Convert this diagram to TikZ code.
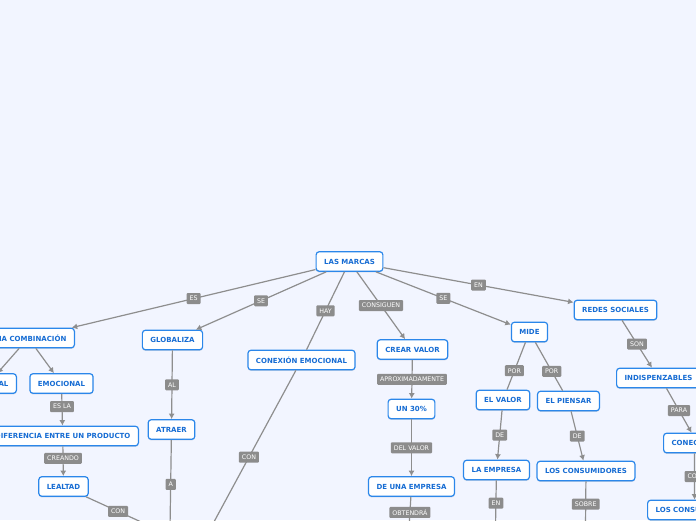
\documentclass[tikz,border=0pt]{standalone}
\usepackage{fontspec}
\setmainfont{DejaVu Sans}
\usepackage{tikz}
\usetikzlibrary{arrows.meta,shadows}
\definecolor{Backdrop}{HTML}{F2F5FF}
\definecolor{MapBlue}{HTML}{2B87EA}
\definecolor{MapInk}{HTML}{166CD3}
\definecolor{TagGray}{HTML}{8C8C8C}
\definecolor{LinkGray}{HTML}{8E8E8E}

\begin{document}
\begin{tikzpicture}[x=1pt,y=-1pt,
      concept/.style={rounded corners=3pt,draw=MapBlue,fill=white,
                      line width=1.2pt,text=MapInk,
                      font=\bfseries\fontsize{7}{8}\selectfont,
                      minimum height=19.5pt,inner xsep=8pt,inner ysep=2pt,
                      drop shadow={shadow xshift=0pt,shadow yshift=-1.2pt,
                                   opacity=0.18,fill=MapBlue!50!black}},
      tag/.style={rounded corners=1pt,fill=TagGray,text=white,
                  font=\fontsize{6.3}{7}\selectfont,
                  inner xsep=3pt,inner ysep=1.5pt,minimum height=11pt},
      link/.style={draw=LinkGray,line width=1.2pt},
      arr/.style={-{Latex[length=5.5pt,width=6pt]}},
      plain/.style={}]
    % Page: a pale backdrop, the map hangs in its lower half.
    \useasboundingbox (0,0) rectangle (696,520);
    \clip (0,0) rectangle (696,520);
    \fill[Backdrop] (0,0) rectangle (696,520);

    \foreach \name/\x/\y/\txt in {
        marcas/349.5/261.5/LAS MARCAS,
        emocional/61.5/383.5/EMOCIONAL,
        lealtad/63.5/486.5/LEALTAD,
        globaliza/172.5/340/GLOBALIZA,
        atraer/171.5/429.5/ATRAER,
        conexion/301.5/360/CONEXIÓN EMOCIONAL,
        crear/412.5/349.5/CREAR VALOR,
        treinta/411.5/409/UN 30\%,
        unaempresa/411.5/486.5/DE UNA EMPRESA,
        mide/529.5/332/MIDE,
        redes/615.5/310/REDES SOCIALES,
        elvalor/503/400/EL VALOR,
        piensar/568.5/401/EL PIENSAR,
        laempresa/496.5/470/LA EMPRESA,
        consumidores/586/471/LOS CONSUMIDORES}{%
      \node[concept] (\name) at (\x,\y) {\txt};
    }
    % Nodes cut by the page edges.
    \node[concept,anchor=east] (combinacion) at (75,338) {UNA COMBINACIÓN};
    \node[concept,anchor=east] (racional) at (17,383.5) {RACIONAL};
    \node[concept,anchor=east] (diferencia) at (139,436)
      {DIFERENCIA ENTRE UN PRODUCTO};
    \node[concept,anchor=west] (indisp) at (616,378) {INDISPENZABLES};
    \node[concept,anchor=west] (conectar) at (663,443) {CONECTAR};
    \node[concept,anchor=west] (consumidores2) at (647,510)
      {LOS CONSUMIDORES};

    % Loose ends that run off the bottom of the page.
    \coordinate (lealtadend) at (150,526);
    \coordinate (atraerend) at (170,529);
    \coordinate (conexionend) at (202,544);
    \coordinate (unaempresaend) at (409,528);
    \coordinate (laempresaend) at (495.5,526);
    \coordinate (consumidoresend) at (585.5,527);

    \foreach \from/\to/\lab/\tip/\p in {
        marcas/combinacion/ES/arr/0.5,
        marcas/globaliza/SE/arr/0.5,
        marcas/conexion/HAY/plain/0.5,
        marcas/crear/CONSIGUEN/arr/0.5,
        marcas/mide/SE/arr/0.5,
        marcas/redes/EN/arr/0.5,
        emocional/diferencia/ES LA/arr/0.4,
        diferencia/lealtad/CREANDO/arr/0.4,
        lealtad/lealtadend/CON/plain/0.5,
        globaliza/atraer/AL/arr/0.5,
        atraer/atraerend/A/plain/0.5,
        conexion/conexionend/CON/plain/0.5,
        crear/treinta/APROXIMADAMENTE/arr/0.5,
        treinta/unaempresa/DEL VALOR/arr/0.5,
        unaempresa/unaempresaend/OBTENDRÁ/plain/0.5,
        mide/elvalor/POR/plain/0.6,
        mide/piensar/POR/plain/0.6,
        elvalor/laempresa/DE/arr/0.5,
        piensar/consumidores/DE/arr/0.5,
        laempresa/laempresaend/EN/plain/0.5,
        consumidores/consumidoresend/SOBRE/plain/0.5,
        redes/indisp/SON/arr/0.5}{%
      \draw[link,\tip] (\from) -- node[tag,pos=\p] (tag\from\to) {\lab} (\to);
    }
    \draw[link,arr] (combinacion) -- (racional);
    \draw[link,arr] (combinacion) -- (emocional);
    \draw[link,arr] ([xshift=8pt]indisp.south) --
      node[tag] (tagindisp) {PARA} ([xshift=-1pt]conectar.north);
    \draw[link,arr] ([xshift=2pt]conectar.south) --
      node[tag] (tagconectar) {CON} ([xshift=-2pt]consumidores2.north);
  \end{tikzpicture}
\end{document}
